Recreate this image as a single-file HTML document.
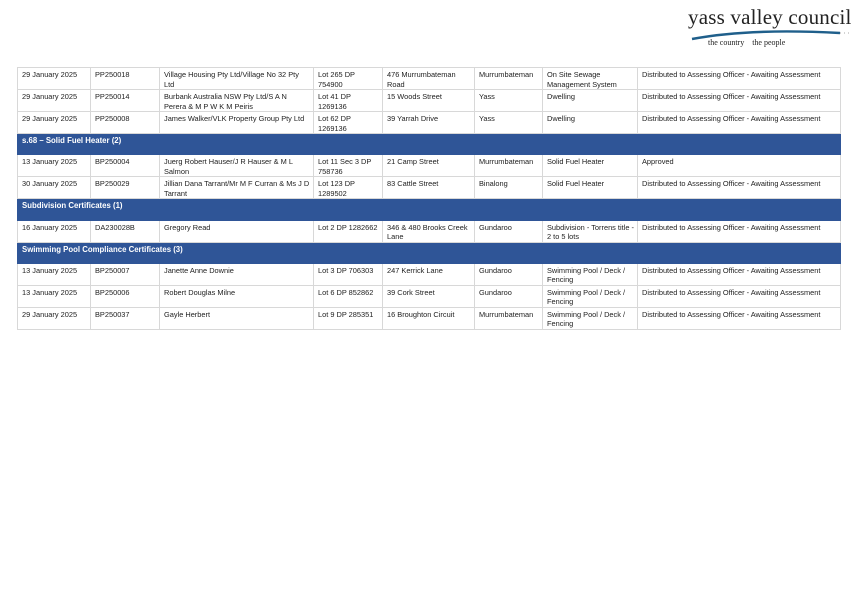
<!DOCTYPE html>
<html><head><style>
body{margin:0;width:861px;height:600px;background:#fff;position:relative;font-family:"Liberation Sans",sans-serif;}
table{position:absolute;left:17px;top:67px;width:823px;border-collapse:collapse;table-layout:fixed;font-size:7.4px;color:#222;}
tr{height:21.3px;}
td{border:1px solid #d8d8d8;vertical-align:top;padding:2px 3px 0 4px;line-height:9.5px;overflow:hidden;box-sizing:border-box;height:21.3px;}
tr.h td{background:#2f5597;color:#fff;font-weight:bold;font-size:7.8px;border-color:#2f5597;}
</style></head><body>
<div style="position:absolute;left:688px;top:5px;font-family:'Liberation Serif',serif;font-size:21px;color:#222;letter-spacing:0.2px">yass valley council</div>
<svg style="position:absolute;left:690px;top:28px" width="165" height="14"><path d="M2 11 Q60 0 150 5" stroke="#1f5f8b" stroke-width="2.5" fill="none"/><path d="M150 5 L162 5" stroke="#aaa" stroke-dasharray="1 3"/></svg>
<div style="position:absolute;left:708px;top:38px;font-family:'Liberation Serif',serif;font-size:8px;color:#222">the country &nbsp;&nbsp; the people</div>
<table>
<colgroup><col style="width:73px"><col style="width:69px"><col style="width:154px"><col style="width:69px"><col style="width:92px"><col style="width:68px"><col style="width:95px"><col style="width:203px"></colgroup>
<tr><td>29 January 2025</td><td>PP250018</td><td>Village Housing Pty Ltd/Village No 32 Pty Ltd</td><td>Lot 265 DP 754900</td><td>476 Murrumbateman Road</td><td>Murrumbateman</td><td>On Site Sewage Management System</td><td>Distributed to Assessing Officer - Awaiting Assessment</td></tr>
<tr><td>29 January 2025</td><td>PP250014</td><td>Burbank Australia NSW Pty Ltd/S A N Perera &amp; M P W K M Peiris</td><td>Lot 41 DP 1269136</td><td>15 Woods Street</td><td>Yass</td><td>Dwelling</td><td>Distributed to Assessing Officer - Awaiting Assessment</td></tr>
<tr><td>29 January 2025</td><td>PP250008</td><td>James Walker/VLK Property Group Pty Ltd</td><td>Lot 62 DP 1269136</td><td>39 Yarrah Drive</td><td>Yass</td><td>Dwelling</td><td>Distributed to Assessing Officer - Awaiting Assessment</td></tr>
<tr class="h"><td colspan="8">s.68 – Solid Fuel Heater (2)</td></tr>
<tr><td>13 January 2025</td><td>BP250004</td><td>Juerg Robert Hauser/J R Hauser &amp; M L Salmon</td><td>Lot 11 Sec 3 DP 758736</td><td>21 Camp Street</td><td>Murrumbateman</td><td>Solid Fuel Heater</td><td>Approved</td></tr>
<tr><td>30 January 2025</td><td>BP250029</td><td>Jillian Dana Tarrant/Mr M F Curran &amp; Ms J D Tarrant</td><td>Lot 123 DP 1289502</td><td>83 Cattle Street</td><td>Binalong</td><td>Solid Fuel Heater</td><td>Distributed to Assessing Officer - Awaiting Assessment</td></tr>
<tr class="h"><td colspan="8">Subdivision Certificates (1)</td></tr>
<tr><td>16 January 2025</td><td>DA230028B</td><td>Gregory Read</td><td>Lot 2 DP 1282662</td><td>346 &amp; 480 Brooks Creek Lane</td><td>Gundaroo</td><td>Subdivision - Torrens title - 2 to 5 lots</td><td>Distributed to Assessing Officer - Awaiting Assessment</td></tr>
<tr class="h"><td colspan="8">Swimming Pool Compliance Certificates (3)</td></tr>
<tr><td>13 January 2025</td><td>BP250007</td><td>Janette Anne Downie</td><td>Lot 3 DP 706303</td><td>247 Kerrick Lane</td><td>Gundaroo</td><td>Swimming Pool / Deck / Fencing</td><td>Distributed to Assessing Officer - Awaiting Assessment</td></tr>
<tr><td>13 January 2025</td><td>BP250006</td><td>Robert Douglas Milne</td><td>Lot 6 DP 852862</td><td>39 Cork Street</td><td>Gundaroo</td><td>Swimming Pool / Deck / Fencing</td><td>Distributed to Assessing Officer - Awaiting Assessment</td></tr>
<tr><td>29 January 2025</td><td>BP250037</td><td>Gayle Herbert</td><td>Lot 9 DP 285351</td><td>16 Broughton Circuit</td><td>Murrumbateman</td><td>Swimming Pool / Deck / Fencing</td><td>Distributed to Assessing Officer - Awaiting Assessment</td></tr>
</table>
</body></html>
